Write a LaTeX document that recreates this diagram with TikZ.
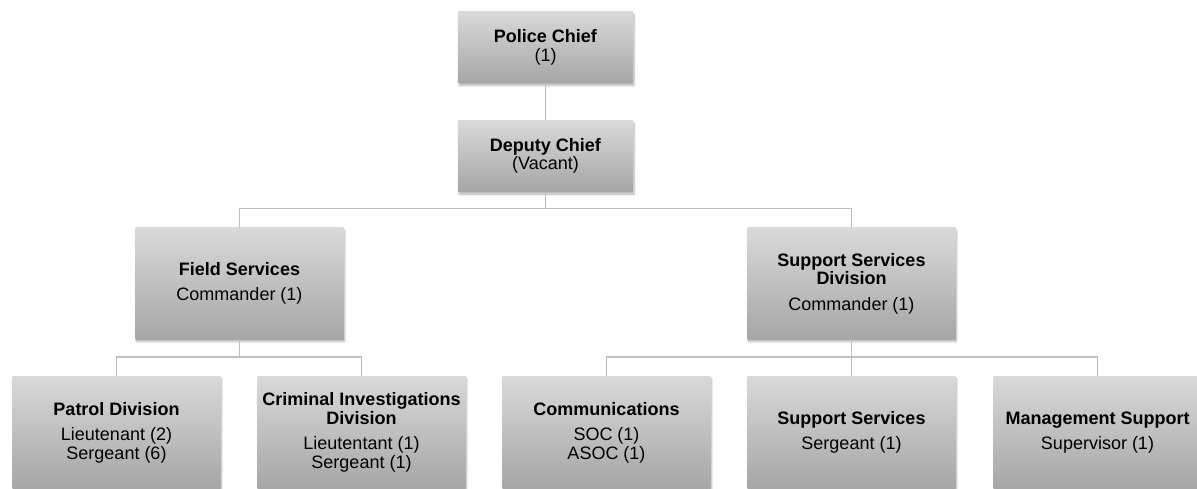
\documentclass[tikz,border=0pt]{standalone}
\usepackage{fontspec}
\setmainfont{Liberation Sans}
\usetikzlibrary{positioning,shadows.blur}

\begin{document}
\begin{tikzpicture}[x = 1pt, y = 1pt, on grid, font = \fontsize{18}{18.5}\selectfont,
  link/.style = {draw = black!25, line width = 1.5pt},
  unit/.style = {top color = gray!30, bottom color = gray!70, align = center, inner sep = 2pt,
    blur shadow = {shadow xshift = 1pt, shadow yshift = -2.5pt, shadow blur steps = 6, shadow opacity = 30}},
  chiefbox/.style = {unit, minimum width = 175pt, minimum height = 71pt},
  divbox/.style = {unit, minimum width = 208pt, minimum height = 111pt},
  secbox/.style = {unit, minimum width = 208pt, minimum height = 113pt}]
\useasboundingbox (0,0) rectangle (1197,-489);

\node[chiefbox] (chief) at (545.5,-47.5) {\textbf{Police Chief}\\(1)};
\node[chiefbox, below = 108.5pt of chief] (deputy) {\textbf{Deputy Chief}\\(Vacant)};

\node[divbox, below left = 127.5pt and 306pt of deputy] (field) {\textbf{Field Services}\\[7pt]Commander (1)};
\node[divbox, below right = 127.5pt and 306pt of deputy] (support) {\textbf{Support Services}\\\textbf{Division}\\[7pt]Commander (1)};

\node[secbox, below left = 149pt and 123pt of field] (patrol) {\textbf{Patrol Division}\\[7pt]Lieutenant (2)\\Sergeant (6)};
\node[secbox, below right = 149pt and 122pt of field] (cid) {\textbf{Criminal Investigations}\\\textbf{Division}\\[7pt]Lieutentant (1)\\Sergeant (1)};

\node[secbox, below left = 149pt and 245pt of support] (comms) {\textbf{Communications}\\[7pt]SOC (1)\\ASOC (1)};
\node[secbox, below = 149pt of support] (suppsvc) {\textbf{Support Services}\\[7pt]Sergeant (1)};
\node[secbox, below right = 149pt and 246pt of support] (mgmt) {\textbf{Management Support}\\[7pt]Supervisor (1)};

% bus lines
\coordinate[below = 17pt of deputy.south] (bus1);
\coordinate[below = 18pt of field.south] (bus2);
\coordinate[below = 18pt of support.south] (bus3);

\path[link] (chief) -- (deputy);
\path[link] (deputy) -- (bus1) -| (field);
\path[link] (bus1) -| (support);

\path[link] (field) -- (bus2) -| (patrol);
\path[link] (bus2) -| (cid);

\path[link] (support) -- (suppsvc);
\path[link] (bus3) -| (comms);
\path[link] (bus3) -| (mgmt);
\end{tikzpicture}
\end{document}
